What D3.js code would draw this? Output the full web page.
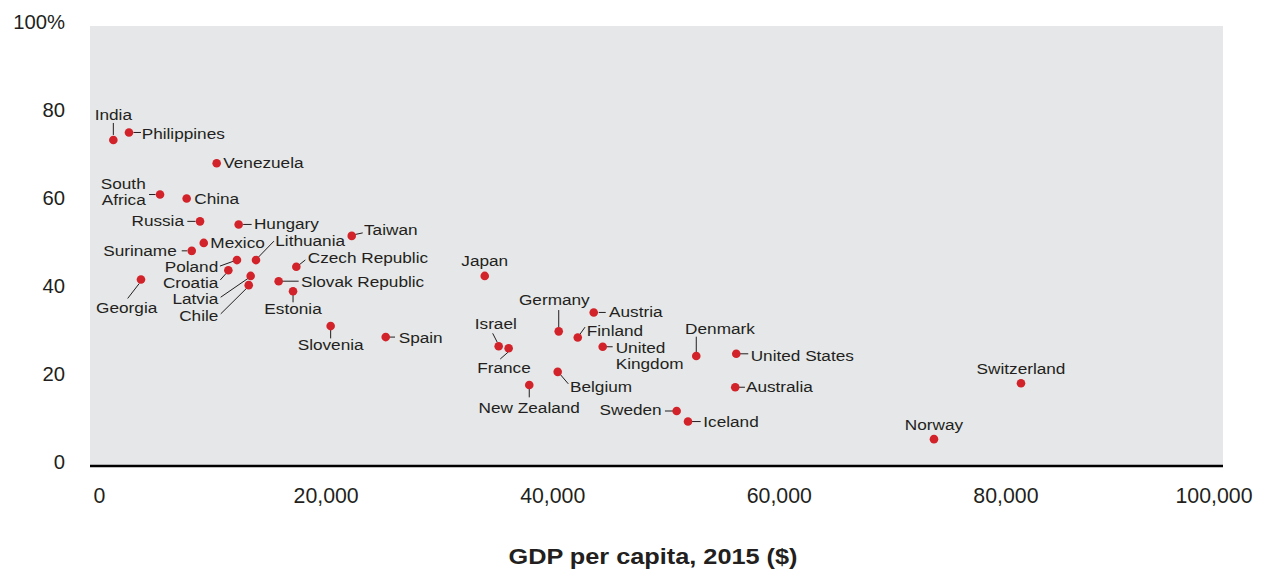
<!DOCTYPE html>
<html>
<head>
<meta charset="utf-8">
<script src="https://cdn.jsdelivr.net/npm/d3@7"></script>
<style>
  html, body { margin: 0; padding: 0; background: #ffffff; }
  svg { display: block; }
  text { font-family: "Liberation Sans", Arial, Helvetica, sans-serif; fill: #231f20; }
</style>
</head>
<body>
<svg id="chart" width="1267" height="571"></svg>
<script>
// ---- Data ----
const countries = ["India","Philippines","Venezuela","South Africa","China","Russia","Hungary","Taiwan","Mexico","Suriname","Poland","Lithuania","Czech Republic","Croatia","Latvia","Chile","Georgia","Slovak Republic","Estonia","Slovenia","Spain","Japan","Austria","Germany","Finland","Israel","France","United Kingdom","Denmark","United States","Belgium","New Zealand","Australia","Sweden","Iceland","Switzerland","Norway"];
const gdpPerCapita = [2060,3440,11180,6180,8530,9710,13120,23100,10040,8980,12970,14650,18210,12210,14180,14010,4500,16650,17920,21240,26100,34840,44460,41370,43050,36070,36950,45250,53510,57040,41280,38770,56950,51780,52780,82170,74490];
const shareValues = [74.1,75.8,68.8,61.7,60.8,55.6,54.9,52.3,50.7,48.9,46.8,46.8,45.3,44.5,43.2,41.1,42.4,42.0,39.7,31.8,29.3,43.2,34.9,30.6,29.2,27.2,26.75,27.1,25.0,25.5,21.4,18.4,17.9,12.5,10.1,18.8,6.1];
const xTicks = [0,20000,40000,60000,80000,100000];
const yTicks = [0,20,40,60,80,100];
const xTitle = "GDP per capita, 2015 ($)";

// ---- Label layout (offsets relative to each dot, in px) ----
// [anchor, dx, dy(baseline of first line), lines, leader [x1,y1,x2,y2] or null]
const labelLayout = {
  "India": ["middle", 0, -20, null, [0,-5,0,-17]],
  "Philippines": ["start", 12.7, 6.4, null, [4.5,0,12,0]],
  "Venezuela": ["start", 6.6, 4.8, null, null],
  "South Africa": ["end", -14.3, -5.4, ["South","Africa"], [-4.5,0,-11,0]],
  "China": ["start", 7.6, 5.3, null, null],
  "Russia": ["end", -16, 4.7, null, [-4.5,0,-12.7,0]],
  "Hungary": ["start", 15.3, 4.7, null, [4.5,0,13,0]],
  "Taiwan": ["start", 12.3, -0.7, null, [3.5,-1.4,11,-3]],
  "Mexico": ["start", 6.6, 5.3, null, null],
  "Suriname": ["end", -15, 5, null, [-4.5,0,-10,0]],
  "Poland": ["end", -18.7, 11.7, null, [-4,1.3,-17,6]],
  "Lithuania": ["start", 19.3, -14.3, null, [2.5,-3,18,-19]],
  "Czech Republic": ["start", 11.4, -3.4, null, [2.7,-1.7,9,-6.7]],
  "Croatia": ["end", -10, 17.4, null, [-2.3,3.3,-8,9.7]],
  "Latvia": ["end", -32.4, 28, null, [-2.4,2.3,-30,21.3]],
  "Chile": ["end", -30.4, 35.4, null, [-2,3,-28,28.7]],
  "Georgia": ["middle", -14.3, 33.4, null, [-1.7,4,-13.3,19]],
  "Slovak Republic": ["start", 22.3, 5.7, null, [3,0,20,0]],
  "Estonia": ["middle", 0, 23, null, [0,3.7,0,11]],
  "Slovenia": ["middle", 0, 24, null, [0,3.3,0,12.3]],
  "Spain": ["start", 13, 6, null, [2.6,0,9.3,0]],
  "Japan": ["middle", 0, -9.7, null, null],
  "Austria": ["start", 15.3, 5, null, [5,0,12,0]],
  "Germany": ["middle", -4.4, -26.3, null, [0,-4,0,-21.3]],
  "Finland": ["start", 9, -2, null, [2.3,-3.4,7.3,-10.4]],
  "Israel": ["middle", -2.9, -17.6, null, [-1.4,-4,-6,-13]],
  "France": ["middle", -4.7, 24.4, null, [-0.4,3.7,-8.4,10.7]],
  "United Kingdom": ["start", 13, 6.6, ["United","Kingdom"], [3,0,10,0]],
  "Denmark": ["middle", 23.7, -22, null, [0,-3.3,0,-19.3]],
  "United States": ["start", 14.4, 6.7, null, [3,0,12,0]],
  "Belgium": ["start", 12.3, 19.7, null, [2.3,2.3,10.6,12]],
  "New Zealand": ["middle", 0, 28.3, null, [0,3.3,0,12.3]],
  "Australia": ["start", 10.7, 5, null, [3,0,9.7,0]],
  "Sweden": ["end", -15, 4, null, [-3.4,0,-11.7,0]],
  "Iceland": ["start", 15.3, 5, null, [3.7,0,12.7,0]],
  "Switzerland": ["middle", 0, -9.3, null, null],
  "Norway": ["middle", 0, -9.3, null, null]
};

// ---- Layout ----
const plot = { left: 90, right: 1223, top: 26, bottom: 466 };
const colors = { bg: "#e6e7e8", dot: "#d2232a", ink: "#231f20" };

const svg = d3.select("#chart");
const x = d3.scaleLinear().domain([0, 100000]).range([plot.left, plot.right]);
const y = d3.scaleLinear().domain([0, 100]).range([plot.bottom, plot.top]);

// background
svg.append("rect")
  .attr("x", x(0)).attr("y", y(100))
  .attr("width", x(100000) - x(0)).attr("height", y(0) - y(100))
  .attr("fill", colors.bg);

// baseline
svg.append("line")
  .attr("x1", x(0)).attr("x2", x(100000))
  .attr("y1", y(0)).attr("y2", y(0))
  .attr("stroke", "#000").attr("stroke-width", 2.7);

// y axis
const yAxis = d3.axisLeft(y).tickValues(yTicks).tickSize(0).tickPadding(24)
  .tickFormat(d => d === 100 ? "100%" : d3.format("d")(d));
const gy = svg.append("g").attr("transform", `translate(${plot.left},0)`).call(yAxis);
gy.select(".domain").remove();
gy.selectAll("text")
  .attr("dy", "0.32em")
  .attr("y", -3.3)
  .style("font-size", "19.5px")
  .style("font-family", '"Liberation Sans", Arial, sans-serif')
  .attr("fill", colors.ink)
  .attr("transform", "scale(1.04,1)");

// x axis
const xAxis = d3.axisBottom(x).tickValues(xTicks).tickSize(0).tickPadding(22)
  .tickFormat(d3.format(","));
const gx = svg.append("g").attr("transform", `translate(0,${plot.bottom})`).call(xAxis);
gx.select(".domain").remove();
gx.selectAll("text")
  .attr("dy", "0.71em")
  .attr("dx", 9)
  .style("font-size", "21.3px")
  .style("font-family", '"Liberation Sans", Arial, sans-serif')
  .attr("fill", colors.ink);
gx.selectAll(".tick").filter(d => d === 100000).select("text")
  .attr("text-anchor", "end").attr("dx", 29);

// x title
svg.append("text")
  .attr("transform", `translate(${(plot.left + plot.right) / 2 - 3.5},564) scale(1.15,1)`)
  .attr("text-anchor", "middle")
  .style("font-size", "22px")
  .style("font-weight", "bold")
  .text(xTitle);

// points
const pts = countries.map((c, i) => ({ name: c, gx: gdpPerCapita[i], v: shareValues[i] }));

// leaders
const lab = svg.append("g");
pts.forEach(p => {
  const L = labelLayout[p.name];
  const cx = x(p.gx), cy = y(p.v);
  if (L[4]) {
    lab.append("line")
      .attr("x1", cx + L[4][0]).attr("y1", cy + L[4][1])
      .attr("x2", cx + L[4][2]).attr("y2", cy + L[4][3])
      .attr("stroke", colors.ink).attr("stroke-width", 1);
  }
  const lines = L[3] || [p.name];
  lines.forEach((t, k) => {
    lab.append("text")
      .attr("transform", `translate(${cx + L[1]},${cy + L[2] + k * 15.7}) scale(1.11,1)`)
      .attr("text-anchor", L[0])
      .style("font-size", "15.5px")
      .text(t);
  });
});

svg.append("g").selectAll("circle").data(pts).join("circle")
  .attr("cx", d => x(d.gx))
  .attr("cy", d => y(d.v))
  .attr("r", 4.3)
  .attr("fill", colors.dot);
</script>
</body>
</html>
